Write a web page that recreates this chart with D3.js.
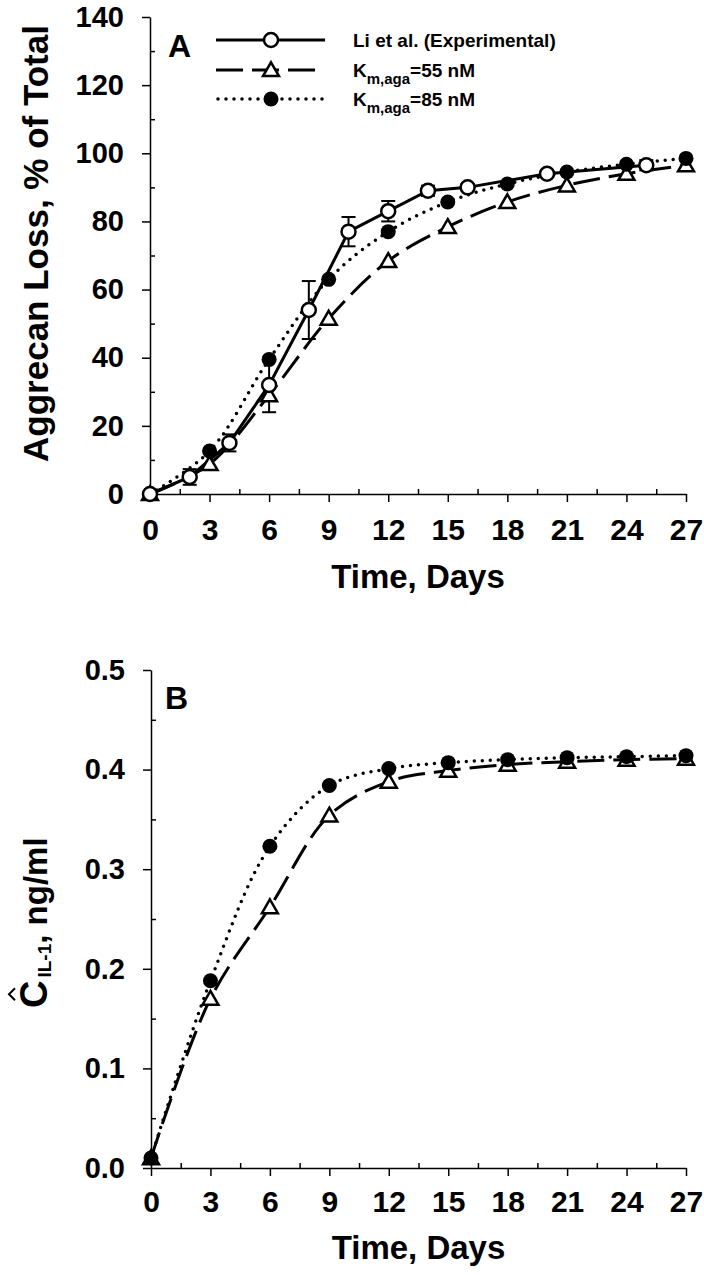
<!DOCTYPE html>
<html><head><meta charset="utf-8">
<script src="https://cdn.jsdelivr.net/npm/d3@7"></script>
<style>
html,body{margin:0;padding:0;background:#fff;}
svg text{font-family:"Liberation Sans",Arial,sans-serif;font-weight:bold;fill:#000;}
</style></head>
<body>
<svg id="chart" width="704" height="1275"></svg>
<script>
// ---- data ----
const modelDays = [0, 3, 6, 9, 12, 15, 18, 21, 24, 27];
const expDays   = [0, 2, 4, 6, 8, 10, 12, 14, 16, 20, 25];
const expLoss   = [0, 5, 15, 32, 54, 77, 83, 89, 90, 94, 96.5];
const expErr    = [0, 2.3, 2.5, 8, 8.5, 4.3, 3, 1.5, 1, 1, 1.5];
const km55Loss  = [0, 8.8, 29, 51.5, 68.4, 78.4, 85.7, 90.6, 94, 96.5];
const km85Loss  = [0, 12.6, 39.5, 63, 77, 85.7, 91, 94.5, 96.8, 98.5];
const km55IL1   = [0.01, 0.170, 0.262, 0.354, 0.388, 0.399, 0.405, 0.408, 0.410, 0.411];
const km85IL1   = [0.01, 0.188, 0.323, 0.384, 0.401, 0.407, 0.410, 0.412, 0.413, 0.414];
const xTicks    = [0, 3, 6, 9, 12, 15, 18, 21, 24, 27];
const xMinor    = [1.5, 4.5, 7.5, 10.5, 13.5, 16.5, 19.5, 22.5, 25.5];
const yTicksA   = [0, 20, 40, 60, 80, 100, 120, 140];
const yMinorA   = [10, 30, 50, 70, 90, 110, 130];
const yTicksB   = [0, 0.1, 0.2, 0.3, 0.4, 0.5];
const yMinorB   = [0.05, 0.15, 0.25, 0.35, 0.45];
const legendLabels = ["Li et al. (Experimental)", "K|m,aga|=55 nM", "K|m,aga|=85 nM"];

const svg = d3.select("#chart");

function drawAxes(g, x, y, yTicks, yMinor, yFmt, opts) {
  const xa = g.append("g").attr("transform", `translate(0,${y.range()[0]})`)
    .call(d3.axisBottom(x).tickValues(xTicks).tickSize(8).tickSizeOuter(0).tickPadding(opts.xPad).tickFormat(d3.format("d")));
  g.append("g").attr("transform", `translate(0,${y.range()[0]})`)
    .call(d3.axisBottom(x).tickValues(xMinor).tickSize(-5).tickSizeOuter(0).tickFormat(""))
    .select(".domain").remove();
  const ya = g.append("g").attr("transform", `translate(${x.range()[0]},0)`)
    .call(d3.axisLeft(y).tickValues(yTicks).tickSize(8).tickSizeOuter(0).tickPadding(18).tickFormat(yFmt));
  g.append("g").attr("transform", `translate(${x.range()[0]},0)`)
    .call(d3.axisLeft(y).tickValues(yMinor).tickSize(-5).tickSizeOuter(0).tickFormat(""))
    .select(".domain").remove();
  g.selectAll(".domain").attr("stroke", "#000").attr("stroke-width", 1.5);
  g.selectAll(".tick line").attr("stroke", "#000").attr("stroke-width", 1.5);
  xa.selectAll("text").attr("font-size", 30).attr("font-family", "Liberation Sans, Arial").attr("font-weight", "bold");
  ya.selectAll("text").attr("font-size", 29).attr("font-family", "Liberation Sans, Arial").attr("font-weight", "bold");
  g.append("text").attr("x", (x.range()[0] + x.range()[1]) / 2).attr("y", opts.xTitleY)
    .attr("text-anchor", "middle").attr("font-size", 33).text("Time, Days");
}

const dashStyle = "27,9";
function modelLine(g, x, y, xs, ys, dashed) {
  const line = d3.line().x((d, i) => x(xs[i])).y(d => y(d)).curve(d3.curveCatmullRom.alpha(0.5));
  const p = g.append("path").attr("d", line(ys)).attr("fill", "none").attr("stroke", "#000");
  if (dashed) p.attr("stroke-width", 3).attr("stroke-dasharray", dashStyle);
  else p.attr("stroke-width", 3.5).attr("stroke-dasharray", "0,8").attr("stroke-linecap", "round");
}
const triPath = d3.symbol().type(d3.symbolTriangle).size(110)();
function triangles(g, x, y, xs, ys) {
  g.selectAll(null).data(ys).join("path").attr("d", triPath)
    .attr("transform", (d, i) => `translate(${x(xs[i])},${y(d) + 1.5})`)
    .attr("fill", "#fff").attr("stroke", "#000").attr("stroke-width", 2.5);
}
function dots(g, x, y, xs, ys) {
  g.selectAll(null).data(ys).join("circle").attr("cx", (d, i) => x(xs[i])).attr("cy", d => y(d))
    .attr("r", 7.5).attr("fill", "#000");
}

// ---- Panel A ----
const xA = d3.scaleLinear().domain([0, 27]).range([150, 686]);
const yA = d3.scaleLinear().domain([0, 140]).range([494, 17]);
const gA = svg.append("g");
drawAxes(gA, xA, yA, yTicksA, yMinorA, d3.format("d"), { xTitleY: 588, xPad: 17 });
gA.append("text").attr("transform", `translate(48,${(yA(0) + yA(140)) / 2 - 12}) rotate(-90)`)
  .attr("text-anchor", "middle").attr("font-size", 35).text("Aggrecan Loss, % of Total");
gA.append("text").attr("x", 168).attr("y", 57).attr("font-size", 32).text("A");

modelLine(gA, xA, yA, modelDays, km55Loss, true);
modelLine(gA, xA, yA, modelDays, km85Loss, false);
// experimental solid line
gA.append("path").attr("d", d3.line().x((d, i) => xA(expDays[i])).y(d => yA(d))(expLoss))
  .attr("fill", "none").attr("stroke", "#000").attr("stroke-width", 3);
// error bars
const eb = gA.append("g").attr("stroke", "#000").attr("stroke-width", 2);
expLoss.forEach((v, i) => {
  if (!expErr[i]) return;
  const cx = xA(expDays[i]), y1 = yA(v + expErr[i]), y2 = yA(v - expErr[i]);
  eb.append("line").attr("x1", cx).attr("x2", cx).attr("y1", y1).attr("y2", y2);
  eb.append("line").attr("x1", cx - 7).attr("x2", cx + 7).attr("y1", y1).attr("y2", y1);
  eb.append("line").attr("x1", cx - 7).attr("x2", cx + 7).attr("y1", y2).attr("y2", y2);
});
triangles(gA, xA, yA, modelDays, km55Loss);
dots(gA, xA, yA, modelDays, km85Loss);
gA.selectAll(null).data(expLoss).join("circle").attr("cx", (d, i) => xA(expDays[i])).attr("cy", d => yA(d))
  .attr("r", 7).attr("fill", "#fff").attr("stroke", "#000").attr("stroke-width", 2.5);

// legend
const lg = svg.append("g");
const legY = [40, 70, 99];
const lx1 = 216, lx2 = 325, lmx = 271;
lg.append("line").attr("x1", lx1).attr("x2", lx2).attr("y1", legY[0]).attr("y2", legY[0]).attr("stroke", "#000").attr("stroke-width", 3);
lg.append("circle").attr("cx", lmx).attr("cy", legY[0]).attr("r", 7).attr("fill", "#fff").attr("stroke", "#000").attr("stroke-width", 2.5);
lg.append("line").attr("x1", lx1).attr("x2", lx2 - 8).attr("y1", legY[1]).attr("y2", legY[1]).attr("stroke", "#000").attr("stroke-width", 3).attr("stroke-dasharray", dashStyle);
lg.append("path").attr("d", triPath).attr("transform", `translate(${lmx},${legY[1] + 1.5})`).attr("fill", "#fff").attr("stroke", "#000").attr("stroke-width", 2.5);
lg.append("line").attr("x1", lx1 + 2).attr("x2", lx2).attr("y1", legY[2]).attr("y2", legY[2]).attr("stroke", "#000").attr("stroke-width", 3.5).attr("stroke-dasharray", "0,8").attr("stroke-linecap", "round");
lg.append("circle").attr("cx", lmx).attr("cy", legY[2]).attr("r", 7.5).attr("fill", "#000");
legendLabels.forEach((lab, i) => {
  const parts = lab.split("|");
  const t = lg.append("text").attr("x", 353).attr("y", legY[i] + 7).attr("font-size", 19);
  t.append("tspan").text(parts[0]);
  if (parts.length > 1) {
    t.append("tspan").attr("dy", 7).attr("font-size", 15).text(parts[1]);
    t.append("tspan").attr("dy", -7).text(parts[2]);
  }
});

// ---- Panel B ----
const xB = d3.scaleLinear().domain([0, 27]).range([151, 686]);
const yB = d3.scaleLinear().domain([0, 0.5]).range([1168, 670]);
const gB = svg.append("g");
drawAxes(gB, xB, yB, yTicksB, yMinorB, d3.format(".1f"), { xTitleY: 1259, xPad: 15 });
gB.append("text").attr("x", 165).attr("y", 709).attr("font-size", 32).text("B");
modelLine(gB, xB, yB, modelDays, km55IL1, true);
modelLine(gB, xB, yB, modelDays, km85IL1, false);
triangles(gB, xB, yB, modelDays, km55IL1);
dots(gB, xB, yB, modelDays, km85IL1);

// y label B: C-hat with subscript IL-1
const yl = gB.append("g").attr("transform", "translate(47,1008) rotate(-90)");
const tC = yl.append("text").attr("x", 0).attr("y", 0).attr("font-size", 38).attr("font-weight", "normal").text("C");
const wC = tC.node().getComputedTextLength();
yl.append("path").attr("d", `M${wC / 2 - 6},-32 L${wC / 2},-38 L${wC / 2 + 6},-32`).attr("fill", "none").attr("stroke", "#000").attr("stroke-width", 2);
const tS = yl.append("text").attr("x", wC + 3).attr("y", 4).attr("font-size", 19).text("IL-1");
const wS = tS.node().getComputedTextLength();
yl.append("text").attr("x", wC + 3 + wS).attr("y", 0).attr("font-size", 33).text(", ng/ml");
</script>
</body></html>
